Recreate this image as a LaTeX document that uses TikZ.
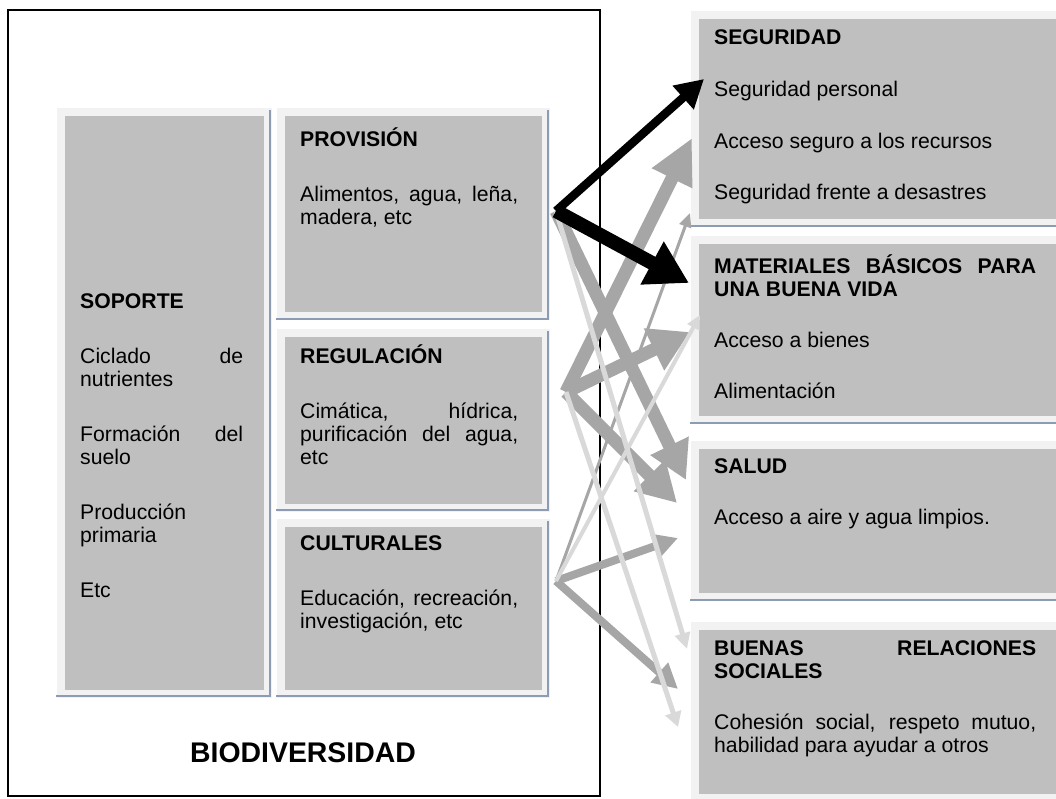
\documentclass[tikz,border=0pt]{standalone}
\usepackage{fontspec}
\setmainfont{Liberation Sans}
\usetikzlibrary{arrows.meta}
\definecolor{boxfill}{RGB}{191,191,191}
\definecolor{boxrim}{RGB}{242,242,242}
\definecolor{boxshade}{RGB}{141,156,180}
\definecolor{arrgray}{RGB}{166,166,166}
\definecolor{arrlight}{RGB}{217,217,217}
\tikzset{
  svc/.style={draw=boxrim, fill=boxfill, line width=8bp, inner sep=0pt, anchor=north west},
  shadeline/.style={draw=boxshade, line width=2bp},
  txt/.style={anchor=base west, inner sep=0pt, font=\fontsize{21.2bp}{23.3bp}\selectfont},
  hd/.style={anchor=base west, inner sep=0pt, font=\fontsize{21.2bp}{23.3bp}\selectfont\bfseries},
  arr/.style n args={4}{draw=#1, line width=#2bp, -{Triangle[length=#3bp, width=#4bp]}}
}
\begin{document}
\begin{tikzpicture}[x=1bp,y=-1bp]
\useasboundingbox (0,0) rectangle (1056,799);
\fill[white] (0,0) rectangle (1056,799);
% outer frame
\draw[line width=1.5bp] (8,10) rectangle (600,796);

% left boxes
\node[svc, minimum width=207bp, minimum height=582bp] (sop) at (57,108) {};
\draw[shadeline] (269.5,110) -- (269.5,696) -- (56,696);
\node[svc, minimum width=265bp, minimum height=204bp] (prov) at (277,108) {};
\draw[shadeline] (548,110) -- (548,318.5) -- (276,318.5);
\node[svc, minimum width=265bp, minimum height=175bp] (reg) at (277,329) {};
\draw[shadeline] (548,331) -- (548,510) -- (276,510);
\node[svc, minimum width=265bp, minimum height=171bp] (cult) at (277,519) {};
\draw[shadeline] (548,521) -- (548,696) -- (276,696);

% right boxes
\node[svc, minimum width=375bp, minimum height=208bp] (seg) at (691,11) {};
\draw[shadeline] (690,226) -- (1056,226);
\node[svc, minimum width=375bp, minimum height=180bp] (mat) at (691,236) {};
\draw[shadeline] (690,423) -- (1056,423);
\node[svc, minimum width=375bp, minimum height=152bp] (sal) at (691,441) {};
\draw[shadeline] (690,600) -- (1056,600);
\node[svc, minimum width=375bp, minimum height=172bp] (bue) at (691,622) {};

% texts: soporte
\node[hd] (sopH) at (80,308) {SOPORTE};
\node[txt] (sop1) at (80,363) {\makebox[163bp][s]{Ciclado de}};
\node[txt] (sop2) at (80,386) {nutrientes};
\node[txt] (sop3) at (80,441) {\makebox[163bp][s]{Formación del}};
\node[txt] (sop4) at (80,464) {suelo};
\node[txt] (sop5) at (80,519) {Producción};
\node[txt] (sop6) at (80,542) {primaria};
\node[txt] (sop7) at (80,597) {Etc};
% provision
\node[hd] (provH) at (300,146) {PROVISIÓN};
\node[txt] (prov1) at (300,201) {\makebox[218bp][s]{Alimentos, agua, leña,}};
\node[txt] (prov2) at (300,224) {madera, etc};
% regulacion
\node[hd] (regH) at (300,363) {REGULACIÓN};
\node[txt] (reg1) at (300,418) {\makebox[218bp][s]{Cimática, hídrica,}};
\node[txt] (reg2) at (300,441) {\makebox[218bp][s]{purificación del agua,}};
\node[txt] (reg3) at (300,464) {etc};
% culturales
\node[hd] (cultH) at (300,550) {CULTURALES};
\node[txt] (cult1) at (300,605) {\makebox[218bp][s]{Educación, recreación,}};
\node[txt] (cult2) at (300,628) {investigación, etc};
% biodiversidad
\node[anchor=base, inner sep=0pt, font=\fontsize{28.4bp}{30bp}\selectfont\bfseries] (bio) at (303,762) {BIODIVERSIDAD};

% right texts
\node[hd] (segH) at (714,45) {SEGURIDAD};
\node[txt] (seg1) at (714,96.5) {Seguridad personal};
\node[txt] (seg2) at (714,148) {Acceso seguro a los recursos};
\node[txt] (seg3) at (714,199.5) {Seguridad frente a desastres};
\node[hd] (matH) at (714,273) {\makebox[322bp][s]{MATERIALES BÁSICOS PARA}};
\node[hd] (matH2) at (714,296.3) {UNA BUENA VIDA};
\node[txt] (mat1) at (714,347) {Acceso a bienes};
\node[txt] (mat2) at (714,398.5) {Alimentación};
\node[hd] (salH) at (714,473) {SALUD};
\node[txt] (sal1) at (714,524.5) {Acceso a aire y agua limpios.};
\node[hd] (bueH) at (714,655) {\makebox[322bp][s]{BUENAS RELACIONES}};
\node[hd] (bueH2) at (714,678.3) {SOCIALES};
\node[txt] (bue1) at (714,729.5) {\makebox[322bp][s]{Cohesión social, respeto mutuo,}};
\node[txt] (bue2) at (714,752.8) {habilidad para ayudar a otros};

% connector ends
\coordinate (P) at (556,211);
\coordinate (R) at (566,392);
\coordinate (C) at (556,581);
\coordinate (tSegP) at (704,79);
\coordinate (tSegA) at (692,138);
\coordinate (tSegD) at (690,213);
\coordinate (tMatP) at (689,283);
\coordinate (tMatB) at (690,332);
\coordinate (tMatL) at (700,315);
\coordinate (tSalP) at (686,480);
\coordinate (tSalR) at (677,503);
\coordinate (tSalC) at (678,538);
\coordinate (tBueP) at (687,649);
\coordinate (tBueR) at (678,727);
\coordinate (tBueC) at (678,689);

% arrows: gray first
\draw[arr={arrgray}{13}{38}{40}] (P) -- (tSalP);
\draw[arr={arrgray}{13}{45}{42}] (R) -- (tSegA);
\draw[arr={arrgray}{13}{40}{44}] (R) -- (tMatB);
\draw[arr={arrgray}{13}{39}{42}] (R) -- (tSalR);
\draw[arr={arrgray}{8}{25}{25}] (C) -- (tSalC);
\draw[arr={arrgray}{8}{25}{25}] (C) -- (tBueC);
\draw[arr={arrgray}{3}{14}{12}] (C) -- (tSegD);
% light arrows
\draw[arr={arrlight}{5}{16}{15}] (P) -- (tBueP);
\draw[arr={arrlight}{5}{15}{16}] (R) -- (tBueR);
\draw[arr={arrlight}{4}{14}{13}] (C) -- (tMatL);
% black arrows
\draw[arr={black}{8.5}{28}{30}] (P) -- (tSegP);
\draw[arr={black}{14}{42}{46}] (P) -- (tMatP);
\end{tikzpicture}
\end{document}
